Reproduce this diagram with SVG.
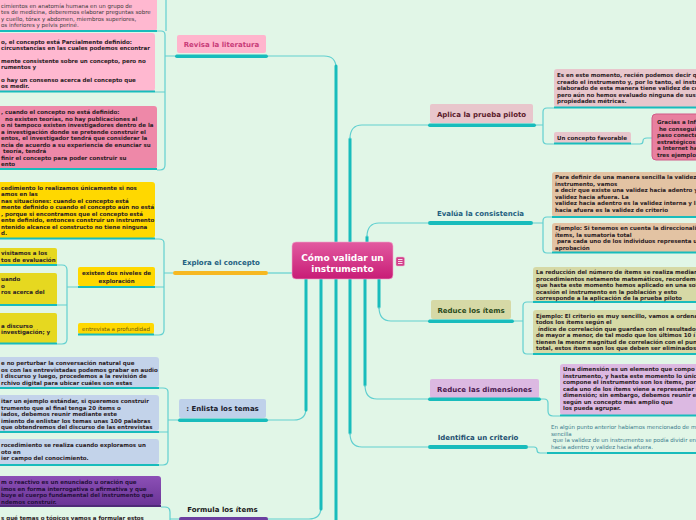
<svg xmlns="http://www.w3.org/2000/svg" width="696" height="520" viewBox="0 0 696 520">
<defs>
<linearGradient id="gc" x1="0" y1="0" x2="0" y2="1"><stop offset="0" stop-color="#e25aa0"/><stop offset="1" stop-color="#c81c76"/></linearGradient>
<linearGradient id="gp" x1="0" y1="0" x2="0" y2="1"><stop offset="0" stop-color="#8c50b6"/><stop offset="1" stop-color="#6a3496"/></linearGradient>
<style>
text{font-family:"DejaVu Sans",Verdana,sans-serif}
.t{font-size:5.5px;font-weight:bold;fill:#2a2024}
.r{font-weight:normal;fill:#3a3a3a}
.lbl{font-size:7px;font-weight:bold;text-anchor:middle}
.thick{fill:none;stroke:#18bcbc;stroke-width:3;stroke-linecap:round}
.thin{fill:none;stroke:#62d0d0;stroke-width:1.2}
.ul{fill:#18bcbc}
</style>
</defs>
<rect width="696" height="520" fill="#e1f6e7"/>

<g id="connectors">
<path class="thin" d="M268,56 H324 Q336,56 336,68"/>
<path class="thick" d="M336,66 V244"/>
<path class="thin" d="M268,273 H293"/>
<path class="thin" d="M268,420 H294 Q306,420 306,408"/>
<path class="thick" d="M306,410 V278"/>
<path class="thin" d="M268,519 H309 Q321,519 321,507"/>
<path class="thick" d="M321,509 V278"/>
<path class="thick" d="M336,278 V522"/>
<path class="thick" d="M350,243 V139"/>
<path class="thin" d="M350,139 Q350,125 362,125 H428"/>
<path class="thick" d="M367,243 V237"/>
<path class="thin" d="M367,237 Q367,223 379,223 H428"/>
<path class="thick" d="M379,278 V307"/>
<path class="thin" d="M379,307 Q379,321 391,321 H428"/>
<path class="thick" d="M365,278 V385"/>
<path class="thin" d="M365,385 Q365,399 377,399 H428"/>
<path class="thick" d="M350,278 V433"/>
<path class="thin" d="M350,433 Q350,447 362,447 H428"/>
<path class="thin" d="M166,0 V31"/>
<path class="thin" d="M157,31 H161 Q165,31 165,35 V165 Q165,170 160,170 H157"/>
<path class="thin" d="M155,92 H165 M165,56 H175"/>
<path class="thin" d="M155,239 H159 Q164,239 164,243 V330 Q164,335 159,335 H154"/>
<path class="thin" d="M155,287 H164 M164,273 H173"/>
<path class="thin" d="M57,265 H62 Q67,265 67,270 V339 Q67,344 62,344 H57"/>
<path class="thin" d="M57,305 H67 M67,287 H78"/>
<path class="thin" d="M159,388 H163 Q168,388 168,392 V460 Q168,465 163,465 H159"/>
<path class="thin" d="M159,432 H168 M168,420 H178"/>
<path class="thin" d="M161,507 H165 Q170,507 170,512 V522 M170,519 H179"/>
<path class="thin" d="M536,125 H543 M554,108 H547 Q543,108 543,112 V140 Q543,144 547,144 H554"/>
<path class="thin" d="M631,144 H640 Q643,144 643,141 Q643,138 647,138 H653"/>
<path class="thin" d="M533,223 H543 M552,217 H547 Q543,217 543,221 V249 Q543,253 547,253 H552"/>
<path class="thin" d="M514,321 H523 M533,302 H527 Q523,302 523,306 V350 Q523,354 527,354 H533"/>
<path class="thin" d="M541,399 H544 Q548,399 548,403 V411 Q548,416 553,416 H560"/>
<path class="thin" d="M528,447 H534 Q537,447 537,450 Q537,453 540,453 H547"/>
</g>

<g id="center">
<rect x="292" y="242" width="101" height="37" rx="4" fill="url(#gc)" stroke="#f0a8cc" stroke-width="0.6"/>
<text x="342.5" y="261" text-anchor="middle" font-size="9" font-weight="bold" fill="#ffffff">Cómo validar un</text>
<text x="342.5" y="272" text-anchor="middle" font-size="9" font-weight="bold" fill="#ffffff">instrumento</text>
<rect x="396" y="257" width="8.5" height="9" rx="1.5" fill="#d2418c" stroke="#f0a8cc" stroke-width="0.5"/>
<path d="M398,259.5 H402.5 M398,261.5 H402.5 M398,263.5 H402.5" stroke="#ffffff" stroke-width="0.8"/>
</g>

<g id="revisa">
<rect x="177" y="35" width="89" height="18" rx="2" fill="#ffb5cd"/>
<text class="lbl" x="221.5" y="47" fill="#c83c78">Revisa la literatura</text>
<rect class="ul" x="175" y="54.5" width="93" height="3.5" rx="1.7"/>
</g>
<g id="revisa-a">
<rect x="-5" y="-5" width="162" height="36" rx="3" fill="#ffb8d0"/>
<rect class="ul" x="-5" y="30" width="162" height="2"/>
<text class="t r"><tspan x="1" y="8">cimientos en anatomía humana en un grupo de</tspan><tspan x="1" y="14.3">tes de medicina, deberemos elaborar preguntas sobre</tspan><tspan x="1" y="20.6">y cuello, tórax y abdomen, miembros superiores,</tspan><tspan x="1" y="27">os inferiores y pelvis periné.</tspan></text>
</g>
<g id="revisa-b">
<rect x="-5" y="33" width="160" height="58" rx="3" fill="#ffb8d0"/>
<rect class="ul" x="-5" y="90.5" width="160" height="2"/>
<text class="t"><tspan x="1" y="43.5">o, el concepto está Parcialmente definido:</tspan><tspan x="1" y="49.5">circunstancias en las cuales podemos encontrar</tspan><tspan x="1" y="62.5">mente consistente sobre un concepto, pero no</tspan><tspan x="1" y="68.5">rumentos y</tspan><tspan x="1" y="82">o hay un consenso acerca del concepto que</tspan><tspan x="1" y="88">os medir.</tspan></text>
</g>
<g id="revisa-c">
<rect x="-5" y="106" width="162" height="63" rx="3" fill="#ee88a8"/>
<rect class="ul" x="-5" y="168" width="162" height="2"/>
<text class="t"><tspan x="1" y="114">, cuando el concepto no está definido:</tspan><tspan x="5" y="120.5">no existen teorías, no hay publicaciones al</tspan><tspan x="1" y="127">o ni tampoco existen investigadores dentro de la</tspan><tspan x="1" y="133.5">a investigación donde se pretende construir el</tspan><tspan x="1" y="140">entos, el investigador tendrá que considerar la</tspan><tspan x="1" y="146.5">ncia de acuerdo a su experiencia de enunciar su</tspan><tspan x="3" y="153">teoría, tendrá</tspan><tspan x="1" y="159.5">finir el concepto para poder construir su</tspan><tspan x="1" y="166">ento</tspan></text>
</g>

<g id="explora">
<text class="lbl" x="221" y="264.5" fill="#1e5f80">Explora el concepto</text>
<rect x="173" y="271" width="95" height="4" rx="2" fill="#f6b822"/>
</g>
<g id="explora-a">
<rect x="-5" y="182" width="160" height="56" rx="3" fill="#ffd800"/>
<rect class="ul" x="-5" y="237.5" width="160" height="2"/>
<text class="t"><tspan x="1" y="190">cedimiento lo realizamos únicamente si nos</tspan><tspan x="1" y="196.3">amos en las</tspan><tspan x="1" y="202.6">nas situaciones: cuando el concepto está</tspan><tspan x="1" y="209">mente definido o cuando el concepto aún no está</tspan><tspan x="1" y="215.5">, porque si encontramos que el concepto está</tspan><tspan x="1" y="222">ente definido, entonces construir un instrumento</tspan><tspan x="1" y="228.5">ntenido alcance el constructo no tiene ninguna</tspan><tspan x="1" y="235">d.</tspan></text>
</g>
<g id="niveles">
<rect x="78" y="267" width="77" height="19" rx="2" fill="#ffd800"/>
<rect class="ul" x="78" y="286" width="77" height="2"/>
<text class="t" text-anchor="middle"><tspan x="116.5" y="275">existen dos niveles de</tspan><tspan x="116.5" y="282.5">exploración</tspan></text>
</g>
<g id="niveles-a">
<rect x="-5" y="248" width="62" height="17" rx="2" fill="#e6d820"/>
<rect class="ul" x="-5" y="264" width="62" height="2"/>
<text class="t"><tspan x="1" y="255">visitamos a los</tspan><tspan x="1" y="262">tos de evaluación</tspan></text>
</g>
<g id="niveles-b">
<rect x="-5" y="273" width="62" height="32" rx="2" fill="#e6d820"/>
<rect class="ul" x="-5" y="304" width="62" height="2"/>
<text class="t"><tspan x="1" y="281">uando</tspan><tspan x="1" y="287.5">o</tspan><tspan x="1" y="294">ros acerca del</tspan></text>
</g>
<g id="niveles-c">
<rect x="-5" y="313" width="62" height="30" rx="2" fill="#e6d820"/>
<rect class="ul" x="-5" y="342.5" width="62" height="2"/>
<text class="t"><tspan x="1" y="328">a discurso</tspan><tspan x="1" y="334">investigación; y</tspan></text>
</g>
<g id="entrevista">
<rect x="78" y="323" width="76" height="11" rx="2" fill="#ffd800"/>
<rect class="ul" x="78" y="333.5" width="76" height="2"/>
<text class="t r" x="116" y="330.5" text-anchor="middle" style="fill:#6a5a10">entrevista a profundidad</text>
</g>

<g id="enlista">
<rect x="179" y="399" width="87" height="19" rx="2" fill="#bfd1ea"/>
<text class="lbl" x="222.5" y="411" fill="#1a1a2a">: Enlista los temas</text>
<rect class="ul" x="178" y="418.5" width="90" height="3.5" rx="1.7"/>
</g>
<g id="enlista-a">
<rect x="-5" y="357" width="164" height="30" rx="3" fill="#c3d3ea"/>
<rect class="ul" x="-5" y="387" width="164" height="2"/>
<text class="t"><tspan x="1" y="365">e no perturbar la conversación natural que</tspan><tspan x="1" y="371.5">os con las entrevistadas podemos grabar en audio</tspan><tspan x="1" y="378">l discurso y luego, procedemos a la revisión de</tspan><tspan x="1" y="384.5">rchivo digital para ubicar cuáles son estas</tspan></text>
</g>
<g id="enlista-b">
<rect x="-5" y="395" width="164" height="36" rx="3" fill="#c3d3ea"/>
<rect class="ul" x="-5" y="431" width="164" height="2"/>
<text class="t"><tspan x="1" y="403">itar un ejemplo estándar, si queremos construir</tspan><tspan x="1" y="409.5">trumento que al final tenga 20 ítems o</tspan><tspan x="1" y="416">iados, debemos reunir mediante este</tspan><tspan x="1" y="422.5">imiento de enlistar los temas unas 100 palabras</tspan><tspan x="1" y="429">que obtendremos del discurso de las entrevistas</tspan></text>
</g>
<g id="enlista-c">
<rect x="-5" y="439" width="164" height="25" rx="3" fill="#c3d3ea"/>
<rect class="ul" x="-5" y="464" width="164" height="2"/>
<text class="t"><tspan x="1" y="447">rocedimiento se realiza cuando exploramos un</tspan><tspan x="1" y="453.5">oto en</tspan><tspan x="1" y="460">ier campo del conocimiento.</tspan></text>
</g>

<g id="formula">
<text class="lbl" x="222.5" y="512" fill="#1a1a1a">Formula los ítems</text>
<rect x="179" y="517" width="89" height="4" rx="2" fill="#6b3fa0"/>
</g>
<g id="formula-a">
<rect x="-5" y="476" width="166" height="30" rx="3" fill="url(#gp)"/>
<rect x="-5" y="505" width="166" height="2" fill="#4e2a78"/>
<text class="t" style="fill:#24103a"><tspan x="1" y="484">m o reactivo es un enunciado u oración que</tspan><tspan x="1" y="490.5">imos en forma interrogativa o afirmativa y que</tspan><tspan x="1" y="497">buye el cuerpo fundamental del instrumento que</tspan><tspan x="1" y="503.5">ndemos construir.</tspan></text>
</g>
<g id="formula-b">
<text class="t" x="1" y="519.5">s qué temas o tópicos vamos a formular estos</text>
</g>

<g id="aplica">
<rect x="430" y="104" width="103" height="19" rx="2" fill="#e8c6cc"/>
<text class="lbl" x="481.5" y="116.5" fill="#5a1a2a">Aplica la prueba piloto</text>
<rect class="ul" x="428" y="123.5" width="108" height="3.5" rx="1.7"/>
</g>
<g id="aplica-a">
<rect x="554" y="69" width="150" height="38" rx="3" fill="#e8c6cc"/>
<rect class="ul" x="554" y="106.5" width="150" height="2"/>
<text class="t"><tspan x="557" y="77">Es en este momento, recién podemos decir q</tspan><tspan x="557" y="83.5">creado el instrumento y, por lo tanto, el instr</tspan><tspan x="557" y="90">elaborado de esta manera tiene validez de co</tspan><tspan x="557" y="96.5">pero aún no hemos evaluado ninguna de sus</tspan><tspan x="557" y="103">propiedades métricas.</tspan></text>
</g>
<g id="aplica-b">
<rect x="554" y="132" width="77" height="11" rx="2" fill="#e8c6cc"/>
<rect class="ul" x="554" y="142.5" width="77" height="2"/>
<text class="t" x="557" y="140">Un concepto favorable</text>
</g>
<g id="gracias">
<rect x="652" y="114" width="60" height="46" rx="4" fill="#e8809f" stroke="#d05a88" stroke-width="1"/>
<text class="t"><tspan x="657" y="124">Gracias a Inf</tspan><tspan x="657" y="130.5"> he consegui</tspan><tspan x="657" y="137">paso conecta</tspan><tspan x="657" y="143.5">estratégicos</tspan><tspan x="657" y="150">a Internet ha</tspan><tspan x="657" y="156.5">tres ejemplo</tspan></text>
</g>

<g id="evalua">
<text class="lbl" x="480.5" y="215.5" fill="#1e5f80">Evalúa la consistencia</text>
<rect class="ul" x="428" y="221" width="105" height="4" rx="2"/>
</g>
<g id="evalua-a">
<rect x="552" y="172" width="150" height="45" rx="3" fill="#e3c3a3"/>
<rect class="ul" x="552" y="216" width="150" height="2"/>
<text class="t"><tspan x="555" y="179">Para definir de una manera sencilla la validez</tspan><tspan x="555" y="185.5">instrumento, vamos</tspan><tspan x="555" y="192">a decir que existe una validez hacia adentro y</tspan><tspan x="555" y="198.5">validez hacia afuera. La</tspan><tspan x="555" y="205">validez hacia adentro es la validez interna y la</tspan><tspan x="555" y="211.5">hacia afuera es la validez de criterio</tspan></text>
</g>
<g id="evalua-b">
<rect x="552" y="223" width="150" height="29" rx="3" fill="#e3c3a3"/>
<rect class="ul" x="552" y="251.5" width="150" height="2"/>
<text class="t"><tspan x="555" y="230">Ejemplo: Si tenemos en cuenta la direccionali</tspan><tspan x="555" y="236.5">ítems, la sumatoria total</tspan><tspan x="555" y="243"> para cada uno de los individuos representa u</tspan><tspan x="555" y="249.5">aprobación</tspan></text>
</g>

<g id="reduce-items">
<rect x="431" y="300" width="80" height="19" rx="2" fill="#d6d9a6"/>
<text class="lbl" x="471" y="312.5" fill="#2a4a1a">Reduce los ítems</text>
<rect class="ul" x="428" y="319.5" width="86" height="3.5" rx="1.7"/>
</g>
<g id="reduce-items-a">
<rect x="533" y="267" width="170" height="35" rx="3" fill="#d6d9a6"/>
<rect class="ul" x="533" y="301" width="170" height="2"/>
<text class="t"><tspan x="536" y="274">La reducción del número de ítems se realiza median</tspan><tspan x="536" y="280.5">procedimientos netamente matemáticos, recordemo</tspan><tspan x="536" y="287">que hasta este momento hemos aplicado en una sol</tspan><tspan x="536" y="293.5">ocasión el instrumento en la población y esto</tspan><tspan x="536" y="300">corresponde a la aplicación de la prueba piloto</tspan></text>
</g>
<g id="reduce-items-b">
<rect x="533" y="310" width="170" height="44" rx="3" fill="#d6d9a6"/>
<rect class="ul" x="533" y="353" width="170" height="2"/>
<text class="t"><tspan x="536" y="318">Ejemplo: El criterio es muy sencillo, vamos a ordena</tspan><tspan x="536" y="324">todos los ítems según el</tspan><tspan x="536" y="330.5"> índice de correlación que guardan con el resultado</tspan><tspan x="536" y="337">de mayor a menor, de tal modo que los últimos 10 í</tspan><tspan x="536" y="343.5">tienen la menor magnitud de correlación con el pun</tspan><tspan x="536" y="350">total, estos ítems son los que deben ser eliminados.</tspan></text>
</g>

<g id="reduce-dim">
<rect x="430" y="379" width="109" height="19" rx="2" fill="#dcb9e2"/>
<text class="lbl" x="484.5" y="391.5" fill="#4a1a50">Reduce las dimensiones</text>
<rect class="ul" x="428" y="397.5" width="113" height="3.5" rx="1.7"/>
</g>
<g id="reduce-dim-a">
<rect x="560" y="364" width="140" height="51" rx="3" fill="#dcb9e2"/>
<rect class="ul" x="560" y="414.5" width="140" height="2"/>
<text class="t"><tspan x="563" y="371">Una dimensión es un elemento que compo</tspan><tspan x="563" y="377.5">instrumento, y hasta este momento lo únic</tspan><tspan x="563" y="384">compone el instrumento son los ítems, por</tspan><tspan x="563" y="390.5">cada uno de los ítems viene a representar u</tspan><tspan x="563" y="397">dimensión; sin embargo, debemos reunir e</tspan><tspan x="563" y="403.5">según un concepto más amplio que</tspan><tspan x="563" y="410">los pueda agrupar.</tspan></text>
</g>

<g id="identifica">
<text class="lbl" x="478" y="439.5" fill="#1e4f70">Identifica un criterio</text>
<rect class="ul" x="428" y="445" width="100" height="4" rx="2"/>
</g>
<g id="identifica-a">
<rect class="ul" x="547" y="452" width="150" height="2"/>
<text class="t r" style="fill:#3a7a8c"><tspan x="551" y="429">En algún punto anterior habíamos mencionado de m</tspan><tspan x="551" y="435.5">sencilla</tspan><tspan x="551" y="442"> que la validez de un instrumento se podía dividir en</tspan><tspan x="551" y="448.5">hacia adentro y validez hacia afuera.</tspan></text>
</g>
</svg>
